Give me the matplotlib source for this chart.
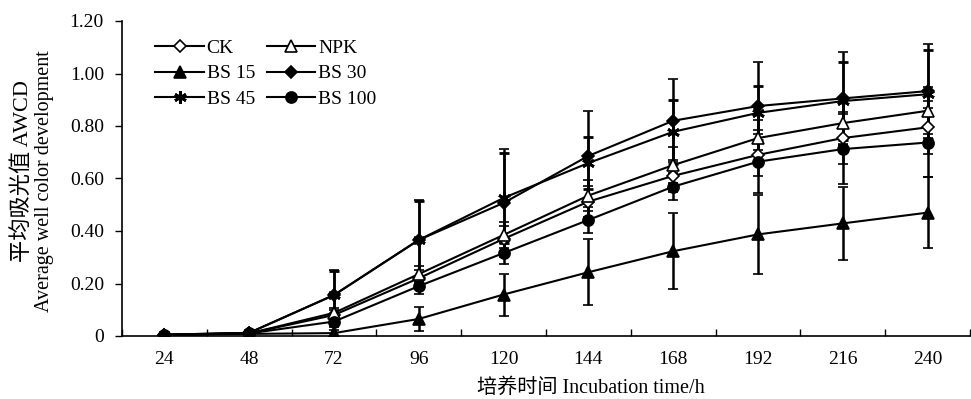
import matplotlib.pyplot as plt
from matplotlib.lines import Line2D
import numpy as np

plt.rcParams['font.family'] = ['Liberation Serif', 'Noto Sans CJK SC']
plt.rcParams['font.size'] = 14

hours = ['24', '48', '72', '96', '120', '144', '168', '192', '216', '240']

ck    = [0.005, 0.010, 0.080, 0.220, 0.370, 0.512, 0.610, 0.690, 0.754, 0.795]
npk   = [0.005, 0.010, 0.088, 0.236, 0.385, 0.535, 0.651, 0.754, 0.811, 0.858]
bs15  = [0.003, 0.008, 0.011, 0.065, 0.158, 0.243, 0.323, 0.387, 0.429, 0.470]
bs30  = [0.005, 0.012, 0.156, 0.366, 0.507, 0.686, 0.820, 0.876, 0.905, 0.933]
bs45  = [0.005, 0.012, 0.156, 0.366, 0.526, 0.659, 0.778, 0.850, 0.895, 0.921]
bs100 = [0.004, 0.010, 0.055, 0.190, 0.316, 0.442, 0.569, 0.664, 0.712, 0.737]

ck_err    = [0.003, 0.004, 0.020, 0.030, 0.050, 0.060, 0.060, 0.080, 0.100, 0.100]
npk_err   = [0.003, 0.004, 0.020, 0.030, 0.050, 0.060, 0.070, 0.070, 0.080, 0.090]
bs15_err  = [0.003, 0.004, 0.010, 0.045, 0.080, 0.125, 0.145, 0.150, 0.140, 0.136]
bs30_err  = [0.003, 0.004, 0.095, 0.152, 0.205, 0.172, 0.158, 0.167, 0.177, 0.179]
bs45_err  = [0.003, 0.004, 0.090, 0.150, 0.170, 0.100, 0.121, 0.102, 0.150, 0.170]
bs100_err = [0.003, 0.004, 0.020, 0.030, 0.040, 0.050, 0.051, 0.120, 0.133, 0.130]

fig = plt.figure(figsize=(9.71, 3.99), dpi=100)
ax = fig.add_axes([122/971, 1-336/399, (970-122)/971, (336-21)/399])

x = np.arange(1, len(hours)+1)
series = [
    ('CK',     ck,    ck_err,    dict(marker='D', mfc='white', ms=6, mew=1.2)),
    ('NPK',    npk,   npk_err,   dict(marker='^', mfc='white', ms=8, mew=1.2)),
    ('BS 15',  bs15,  bs15_err,  dict(marker='^', mfc='black', ms=8, mew=1.2)),
    ('BS 30',  bs30,  bs30_err,  dict(marker='D', mfc='black', ms=6, mew=1.2)),
    ('BS 45',  bs45,  bs45_err,  dict(marker=(6, 2, 0), mfc='black', ms=9, mew=2)),
    ('BS 100', bs100, bs100_err, dict(marker='o', mfc='black', ms=8, mew=1.2)),
]
handles = {}
for name, y, e, st in series:
    ax.errorbar(x, y, yerr=e, color='black', lw=1.5, mec='black',
                elinewidth=1.8, capsize=3.5, capthick=1.8, **st)
    handles[name] = Line2D([], [], color='black', lw=1.5, mec='black', **st)

order = ['CK', 'BS 15', 'BS 45', 'NPK', 'BS 30', 'BS 100']
ax.legend([handles[n] for n in order], order, ncol=2, frameon=False,
          loc='upper left', bbox_to_anchor=(0.03, 0.966), handlelength=2.5,
          columnspacing=0.6, labelspacing=0.4, handletextpad=0.15, fontsize=14,
          borderaxespad=0)

ax.set_xlim(0.5, len(hours)+0.5)
ax.set_ylim(0, 1.2)
ax.set_xticks(x)
ax.set_xticklabels(hours)
ax.set_xticks(np.arange(0.5, len(hours)+1, 1), minor=True)
ax.tick_params(axis='x', which='major', length=0, pad=11)
ax.tick_params(axis='x', which='minor', direction='in', length=5, width=1)
ax.set_yticks(np.arange(0, 1.21, 0.2))
ax.set_yticklabels(['0'] + ['%.2f' % v for v in np.arange(0.2, 1.21, 0.2)])
ax.tick_params(axis='y', direction='out', length=5, width=1, pad=8)

for s in ['top', 'right']:
    ax.spines[s].set_visible(False)
for s in ['left', 'bottom']:
    ax.spines[s].set_linewidth(1.2)

W, H = 971, 399
fig.text(591/W, 1-388/H, '培养时间 Incubation time/h', fontsize=14.5,
         ha='center', va='center')
fig.text(22/W, 1-171/H, '平均吸光值 AWCD', fontsize=16, rotation=90,
         ha='center', va='center')
fig.text(45/W, 1-181/H, 'Average well color development', fontsize=14.5,
         rotation=90, ha='center', va='center')

fig.savefig('out.png', dpi=100)
